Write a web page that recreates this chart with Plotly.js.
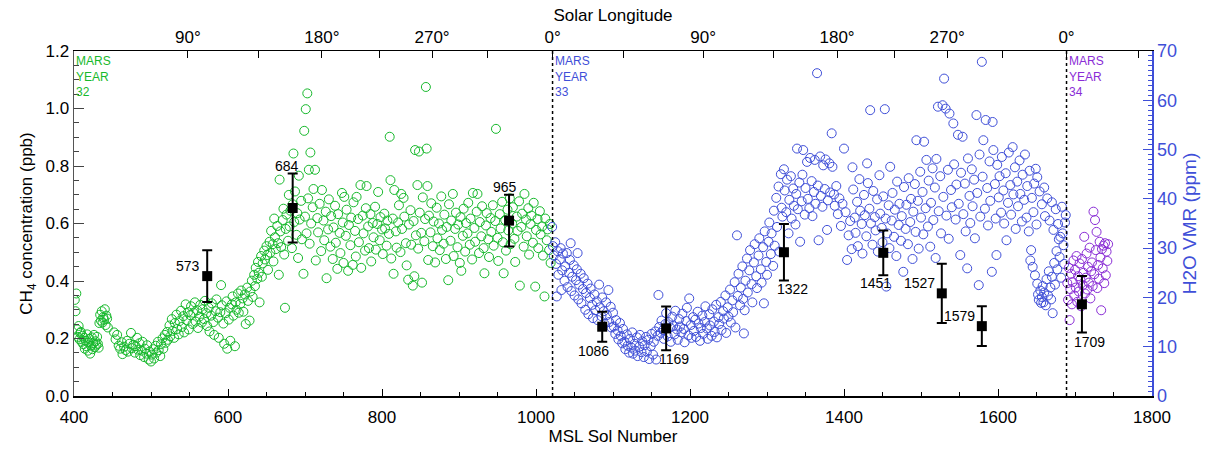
<!DOCTYPE html>
<html>
<head>
<meta charset="utf-8">
<script src="https://cdn.plot.ly/plotly-3.0.1.min.js"></script>
<style>html,body{margin:0;padding:0;background:#fff;}#chart{width:1207px;height:449px;}</style>
</head>
<body>
<div id="chart"></div>
<script>
// ---- Data: H2O VMR (ppm) observations, [MSL sol, ppm] ----
const my32Obs = [
[401,19.5],[402,17.2],[403,20.8],[404,13.5],[405,12.0],[406,14.2],[407,11.5],[408,12.8],[409,13.0],[410,11.0],
[411,12.2],[412,10.5],[413,11.8],[414,9.6],[415,11.2],[416,10.1],[417,12.5],[418,9.2],[419,10.8],[420,11.6],[421,8.6],[422,10.2],[423,11.9],[424,9.5],[425,10.7],[426,12.4],[427,9.9],[428,11.1],[429,10.4],[430,12.0],[431,10.6],[432,9.8],
[433,14.8],[434,16.5],[435,15.3],[436,17.2],[437,14.9],[438,16.0],[439,15.5],[440,17.6],[441,14.4],[442,16.3],[443,15.7],[444,13.9],
[452,12.9],[454,11.5],[456,12.4],[458,10.2],[460,9.6],[462,10.9],[463,8.5],[465,10.0],[467,9.3],[469,11.2],[470,9.0],[472,10.6],[474,12.8],[475,9.7],[477,10.4],[479,8.8],[480,10.1],
[482,11.8],[483,9.4],[485,10.7],[486,8.3],[488,9.2],[489,11.0],[491,7.9],[492,9.6],[494,8.6],[495,10.3],[497,7.4],[498,9.0],[500,7.0],[501,8.4],[503,9.5],[504,7.6],[506,10.2],[507,8.8],[509,11.0],[510,9.3],[512,8.1],[513,10.5],[515,11.7],[516,9.6],[518,12.4],[519,10.8],
[521,13.0],[522,11.4],[524,14.3],[525,12.1],[527,15.6],[528,13.2],[530,11.8],[531,14.8],[533,16.5],[534,13.6],[536,12.5],[537,15.2],[539,17.3],[540,14.0],[542,16.2],[543,12.9],[545,18.6],
[546,15.4],[548,17.0],[549,13.5],[551,16.4],[552,18.2],[554,14.6],[555,16.9],[557,19.0],[558,15.1],[560,17.4],[561,13.8],[563,16.1],[564,18.5],[566,14.9],[567,17.6],[569,15.6],[570,19.3],[572,16.8],[573,14.2],[575,17.9],[576,13.1],[578,16.3],[579,18.8],[581,15.0],[582,12.4],[584,17.2],[585,19.6],[587,15.9],[588,11.8],[590,17.0],
[591,22.5],[592,18.4],[594,14.7],[595,10.6],[597,16.8],[598,19.2],[599,9.6],[601,15.5],[602,17.9],[603,11.2],[605,18.6],[606,20.2],[607,16.3],[609,10.1],[610,19.0],[611,17.5],[613,20.8],[614,16.9],[616,18.7],[617,21.4],[619,19.8],[620,17.1],[622,20.6],[623,14.6],[625,22.0],[626,19.3],[628,15.3],[629,21.2],
[631,23.4],[632,20.1],[634,24.6],[635,22.3],[636,26.0],[638,23.8],[639,27.2],[640,25.0],[641,19.0],[643,28.4],[644,24.2],[645,26.9],[647,29.5],[648,27.7],[650,30.4],[651,28.6],[652,25.6],[654,31.3],[655,29.1],[656,33.5],[658,30.8],[659,27.3],[660,36.0],
[661,32.2],[662,29.8],[664,34.5],[665,31.0],[666,24.6],[667,43.9],[668,33.4],[669,30.2],[671,35.7],[672,38.0],[673,28.7],[674,17.9],[675,33.9],[676,36.8],[678,31.5],[679,40.8],[680,34.4],[681,37.6],[683,30.0],[684,38.9],[685,49.2],[686,35.3],[687,41.5],[689,32.7],[690,37.1],[691,28.0],[692,44.7],[693,35.8],[695,39.6],[696,31.8],[698,24.8],[699,53.8],[700,36.4],[701,58.2],[702,33.0],[703,61.4],[704,40.1],[705,45.9],[706,30.9],[707,49.4],[708,35.0],[710,38.3],[711,42.0],[713,45.9],[714,27.5],[716,36.1],[717,33.2],[719,39.0],
[721,29.4],[722,41.8],[724,35.6],[725,31.6],[727,37.4],[728,23.9],[730,33.8],[731,39.9],[733,30.3],[734,36.5],[736,27.8],[737,34.2],[739,38.6],[740,31.1],[742,25.8],[743,36.9],[745,33.1],[746,29.0],[748,41.2],[749,35.2],[750,27.0],[751,40.4],[753,32.5],[754,37.8],[756,25.4],[757,34.7],[759,30.6],[760,36.2],[762,26.6],[763,39.3],[765,33.5],[766,28.3],[767,40.4],[769,35.9],[770,31.2],[772,42.8],[773,26.0],[775,36.6],[776,33.0],[778,29.5],[779,38.1],[780,42.6],[782,34.4],[783,30.0],[785,36.9],[786,27.3],[788,35.1],[789,32.2],[791,38.4],[792,29.7],[794,34.9],[795,41.4],[797,31.6],[798,36.3],[800,33.8],
[801,28.8],[803,37.0],[804,34.0],[806,30.5],[807,35.6],[809,32.9],[810,52.6],[811,43.8],[812,27.9],[814,36.0],[815,24.8],[816,41.8],[818,33.4],[819,30.1],[821,35.2],[822,38.7],[824,29.2],[825,41.0],[826,33.9],[828,40.2],[829,36.4],[831,31.0],[832,26.5],[834,23.6],[835,34.8],[837,37.7],[838,30.7],[840,22.4],[841,35.5],[842,24.3],[843,49.9],[844,32.6],[846,42.8],[847,29.9],[848,49.6],[849,37.2],[851,33.1],[852,23.0],[853,40.3],[855,31.4],[856,35.9],[857,62.7],[858,50.2],[859,42.6],[860,27.6],[861,36.6],[863,33.2],[864,39.1],[866,30.4],[867,35.4],[869,27.1],
[871,38.2],[872,32.0],[874,35.0],[875,29.6],[877,40.5],[878,33.7],[880,30.9],[881,36.8],[883,27.8],[884,34.3],[886,23.5],[887,38.9],[889,31.5],[890,35.6],[892,41.0],[893,28.4],[895,33.9],[896,37.2],[898,30.2],[899,34.8],[901,27.0],[902,36.3],[903,25.4],[905,32.5],[906,38.0],[908,29.3],[909,35.1],[911,33.0],[912,39.2],[914,30.7],[915,36.0],[917,27.7],[918,41.2],[920,34.1],[921,31.3],[923,37.4],[924,41.0],[926,29.0],[927,35.3],[929,32.4],[930,38.5],[932,30.0],[933,24.9],[935,34.6],[936,37.1],[938,31.8],[939,28.2],[941,36.1],[942,33.3],[944,38.7],[945,30.5],[947,35.5],[948,54.2],[950,32.1],[951,27.4],[953,36.9],[954,34.0],[956,39.4],[957,31.2],[958,24.9],[960,35.7],
[961,29.5],[963,37.8],[964,33.6],[966,40.1],[967,30.8],[969,35.0],[970,38.3],[972,31.9],[973,27.2],[975,36.4],[976,33.5],[978,39.5],[979,22.4],[981,34.3],[982,37.0],[984,30.3],[985,41.0],[987,35.8],[988,32.4],[990,38.1],[991,28.7],[993,34.9],[994,36.6],[996,31.1],[997,39.2],[999,22.2],[1000,33.7],[1002,35.9],[1003,30.0],[1005,37.5],[1006,32.8],[1008,34.4],[1009,28.5],[1011,20.2],[1012,36.0],[1014,31.6],[1015,33.8],[1017,29.6],[1018,34.9],[1019,27.0]
];
const my33Obs = [
[1021,34.3],[1022,30.4],[1023,28.5],[1025,31.2],[1026,26.8],[1027,20.2],[1028,29.4],[1029,24.6],[1031,27.7],[1032,30.0],[1033,21.5],[1034,25.5],[1035,28.9],[1037,23.4],[1038,26.3],[1040,29.0],[1041,22.1],[1043,25.0],[1044,27.6],[1045,31.0],[1046,21.3],[1047,24.2],[1049,26.5],[1050,20.4],[1052,23.5],[1053,25.7],[1054,29.0],[1055,19.6],[1056,22.6],[1058,24.8],[1059,18.8],[1061,21.7],[1062,23.9],[1064,17.5],[1065,20.9],[1067,22.8],[1068,16.6],[1070,19.9],[1071,21.8],[1073,18.5],[1074,15.8],[1076,20.6],[1077,17.4],[1079,19.2],[1080,15.4],[1082,22.6],[1083,18.0],[1085,16.2],[1086,20.0],[1088,17.2],[1089,14.6],[1091,19.0],[1092,16.4],[1094,21.5],[1095,15.0],[1097,18.1],[1098,13.9],[1100,16.9],
[1101,14.1],[1103,12.6],[1104,15.4],[1106,13.3],[1107,11.5],[1109,14.8],[1110,12.2],[1112,10.7],[1113,13.6],[1115,11.0],[1116,9.5],[1118,12.5],[1119,10.2],[1121,8.8],[1122,11.6],[1124,9.8],[1125,12.9],[1126,8.6],[1128,10.6],[1129,9.2],[1131,11.9],[1132,8.1],[1134,10.0],[1135,12.4],[1137,8.9],[1138,11.1],[1140,7.9],[1141,10.3],[1143,12.0],[1144,9.0],[1146,11.4],[1147,7.5],[1149,10.1],[1150,12.6],[1152,8.4],[1153,11.0],[1155,13.1],[1156,7.4],[1158,12.2],[1159,20.5],[1160,14.0],
[1162,12.8],[1163,15.3],[1165,13.4],[1166,11.6],[1168,14.6],[1169,16.8],[1171,12.1],[1172,15.0],[1174,13.9],[1175,11.0],[1177,16.1],[1178,14.2],[1180,12.5],[1181,17.3],[1183,13.5],[1184,11.4],[1186,15.6],[1187,14.1],[1189,12.9],[1190,16.7],[1192,13.6],[1193,10.9],[1195,15.2],[1196,17.9],[1198,12.3],[1199,19.8],[1201,14.4],[1202,11.8],[1204,16.0],[1205,13.2],[1207,15.5],[1208,12.0],[1210,17.1],[1211,14.7],[1213,11.2],[1214,13.8],[1216,16.3],[1217,12.6],[1219,15.0],[1220,18.2],[1222,13.7],[1223,11.6],[1225,16.6],[1226,14.3],[1228,12.2],[1229,17.6],[1231,15.1],[1232,13.0],[1234,18.5],[1235,11.9],[1237,16.0],[1238,14.6],[1240,19.1],[1241,13.4],[1243,17.2],[1244,15.7],[1246,20.4],[1247,12.8],[1249,18.0],[1250,16.1],[1252,21.6],[1253,14.9],[1255,19.4],[1256,17.0],[1258,23.1],[1259,13.9],
[1261,32.6],[1262,20.3],[1263,24.8],[1265,18.4],[1266,22.0],[1268,26.3],[1269,19.7],[1270,12.7],[1271,17.4],[1272,23.4],[1274,27.9],[1275,21.0],[1277,25.5],[1278,29.6],[1280,22.7],[1281,19.0],[1283,27.1],[1284,30.8],[1286,24.3],[1287,21.9],[1289,28.5],[1290,32.0],[1292,25.7],[1293,23.0],[1295,30.2],[1296,18.8],[1297,33.4],[1299,27.2],[1300,24.6],[1302,31.3],[1303,35.2],[1305,28.8],[1306,33.0],[1308,26.4],[1309,37.6],[1310,30.5],[1312,40.2],[1313,34.3],[1315,42.5],[1316,29.3],[1318,45.0],[1319,38.2],[1320,36.4],
[1322,46.0],[1323,41.7],[1325,37.3],[1326,43.9],[1328,33.0],[1329,39.8],[1331,44.6],[1332,36.0],[1334,42.1],[1335,38.6],[1337,34.8],[1338,41.0],[1339,50.2],[1340,37.9],[1342,43.3],[1343,31.3],[1345,39.5],[1346,44.9],[1347,49.9],[1349,36.8],[1350,42.2],[1352,47.5],[1353,40.0],[1355,38.1],[1356,48.3],[1358,43.6],[1359,36.5],[1361,41.4],[1362,47.9],[1363,39.0],[1365,65.5],[1366,42.7],[1367,31.6],[1369,48.6],[1370,40.6],[1372,38.4],[1373,46.8],[1375,42.0],[1376,48.0],[1378,33.7],[1379,39.7],[1381,47.2],[1382,41.3],[1384,53.3],[1385,46.5],[1387,40.9],[1388,38.6],[1390,42.6],[1392,36.9],[1394,40.1],[1396,34.5],[1398,39.0],[1400,50.2],[1402,37.3],[1404,27.6],[1406,32.6],[1408,35.5],[1410,29.8],
[1411,46.4],[1412,41.9],[1414,36.2],[1415,33.1],[1417,39.4],[1418,30.4],[1420,44.0],[1421,37.6],[1423,34.9],[1424,28.9],[1426,40.8],[1427,36.7],[1429,32.4],[1430,47.2],[1431,43.2],[1433,38.0],[1434,58.0],[1435,35.0],[1437,30.7],[1438,41.6],[1440,36.3],[1441,33.6],[1443,39.9],[1444,29.3],[1446,44.8],[1447,37.0],[1449,34.1],[1450,31.2],[1451,40.5],[1453,58.2],[1454,36.0],[1455,22.2],[1456,33.0],[1458,38.7],[1459,30.0],[1460,46.5],[1462,35.6],[1463,41.2],[1465,32.3],[1466,37.8],[1468,28.4],[1469,43.5],[1471,34.7],[1472,39.0],[1474,31.5],[1475,36.5],[1477,25.2],[1478,42.4],[1480,33.9],
[1481,38.8],[1483,30.8],[1484,44.2],[1486,35.3],[1487,40.0],[1489,27.8],[1490,37.4],[1492,43.0],[1493,33.3],[1494,51.9],[1496,39.6],[1497,29.9],[1499,45.5],[1500,36.2],[1502,41.4],[1503,32.8],[1504,51.6],[1506,38.1],[1507,47.9],[1509,34.4],[1510,43.7],[1512,30.3],[1513,39.2],[1515,46.2],[1516,35.7],[1518,42.3],[1519,28.0],[1520,48.1],[1522,58.7],[1523,37.5],[1525,44.6],[1526,33.0],[1528,59.0],[1529,40.4],[1530,64.4],[1532,58.3],[1533,36.6],[1535,45.9],[1536,31.9],[1537,57.3],[1539,41.8],[1540,38.3],
[1542,55.3],[1543,47.0],[1545,35.8],[1546,42.9],[1548,53.0],[1549,39.0],[1551,28.6],[1552,45.3],[1554,52.6],[1555,36.9],[1557,43.1],[1558,33.4],[1560,25.9],[1561,48.2],[1563,40.6],[1564,35.1],[1566,46.0],[1567,38.5],[1569,43.9],[1570,32.0],[1572,57.0],[1573,41.2],[1575,22.5],[1576,49.0],[1577,36.4],[1579,67.8],[1580,44.5],[1581,51.9],[1583,38.0],[1584,56.0],[1586,42.2],[1587,34.6],[1589,47.6],[1590,39.6],[1592,25.2],[1593,55.6],[1594,49.9],[1596,43.0],[1597,36.0],[1598,28.6],[1599,46.9],
[1601,40.3],[1602,44.6],[1604,37.2],[1605,48.5],[1607,41.7],[1608,35.0],[1610,45.2],[1611,31.6],[1613,39.2],[1614,49.4],[1616,42.8],[1617,36.8],[1619,50.5],[1620,40.9],[1622,46.4],[1623,33.9],[1625,43.5],[1626,38.5],[1628,47.8],[1629,41.0],[1631,35.4],[1632,44.9],[1634,39.8],[1635,49.0],[1637,36.2],[1638,42.6],[1640,33.4],[1641,45.7],[1643,29.6],[1644,40.2],[1646,37.3],[1647,43.1],[1649,46.1],[1650,34.8],
[1642,27.5],[1645,26.2],[1648,24.5],[1651,22.8],[1652,20.6],[1653,19.5],[1655,21.4],[1656,18.9],[1657,20.1],[1658,22.3],[1659,19.0],[1660,21.0],[1662,18.4],[1663,23.7],[1665,20.4],[1666,25.3],[1668,22.0],[1669,19.6],[1670,24.2],[1671,16.8],[1673,27.0],[1674,22.6],[1676,29.4],[1677,25.7],[1679,31.8],[1680,28.2],[1682,24.0],[1683,38.4],[1684,33.0],[1685,30.6],[1686,26.8],[1687,35.2],[1688,36.7],
[1651,44.4],[1654,41.5],[1657,38.9],[1660,42.3],[1661,36.5],[1664,40.1],[1667,35.6],[1670,39.3],[1672,33.7],[1675,37.9],[1678,34.9],[1681,32.3]
];
const my34Obs = [
[1690,22.9],[1691,19.5],[1692,26.0],[1693,15.4],[1694,21.7],[1695,24.8],[1696,18.6],[1697,23.1],[1698,27.5],[1699,20.4],[1700,25.6],[1701,22.0],[1702,28.4],[1703,19.1],[1704,24.3],[1705,21.2],[1706,26.9],[1707,23.6],[1708,18.2],[1709,27.8],[1710,22.5],[1711,25.0],[1712,32.3],[1713,20.8],[1714,24.0],[1715,28.9],[1716,21.6],[1717,26.2],[1718,23.0],[1719,30.1],[1720,19.8],[1721,25.3],[1722,27.1],[1723,22.3],[1724,37.4],[1725,24.7],[1726,35.7],[1727,29.6],[1728,33.3],[1729,21.9],[1730,26.6],[1731,23.8],[1732,31.3],[1733,28.1],[1734,17.4],[1735,29.8],[1736,25.9],[1737,30.5],[1738,22.9],[1739,31.0],[1740,24.5],[1741,29.3],[1742,27.4],[1743,30.8]
];

// ---- Data: CH4 background measurements ----
const ch4Sols = [573, 684, 965, 1086, 1169, 1322, 1451, 1527, 1579, 1709];
const ch4Ppb  = [0.417, 0.654, 0.61, 0.241, 0.235, 0.50, 0.498, 0.357, 0.243, 0.319];
const ch4Err  = [0.09, 0.12, 0.09, 0.052, 0.076, 0.098, 0.078, 0.103, 0.069, 0.098];

// ---- Tick labels / annotations ----
const lsTickSols   = [548, 722, 865, 1021.5, 1217, 1391, 1534, 1689];
const lsTickLabels = ['90°', '180°', '270°', '0°', '90°', '180°', '270°', '0°'];
const lsMinorSols  = [639, 797, 937, 1113, 1308, 1466, 1606, 1782];
const yearStartSols = [1021.5, 1689];
const yearLabelSols = [400, 1021.5, 1689];
const yearLabels = ['32', '33', '34'];

// ---- Styles ----
const GREEN = '#17b92c', BLUE = '#3f4fd8', PURPLE = '#8a2dd6';
const yearColors = [GREEN, BLUE, PURPLE];
const FONT = 'Liberation Sans, Arial, Helvetica, sans-serif';
// label placement for each CH4 point: [xanchor, xshift, yshift]
const labelPlace = [
  ['right', -5, 10], ['center', -6, 42], ['center', -4, 34], ['center', -9, -24], ['center', 8, -31],
  ['center', 9, -37], ['center', -8, -30], ['right', -5, 10], ['right', -5, 10], ['center', 8, -38]
];

function obsTrace(obs, color) {
  return {
    type: 'scatter', mode: 'markers',
    x: obs.map(p => p[0]), y: obs.map(p => p[1]),
    xaxis: 'x', yaxis: 'y',
    marker: {symbol: 'circle-open', size: 9, color: color, line: {width: 1, color: color}},
    hoverinfo: 'x+y', showlegend: false
  };
}

const traces = [
  obsTrace(my32Obs, GREEN),
  obsTrace(my33Obs, BLUE),
  obsTrace(my34Obs, PURPLE),
  {
    type: 'scatter', mode: 'markers', x: ch4Sols, y: ch4Ppb, xaxis: 'x', yaxis: 'y2',
    marker: {symbol: 'square', size: 10, color: '#000'},
    error_y: {type: 'data', array: ch4Err, visible: true, color: '#000', thickness: 2, width: 5},
    showlegend: false
  },
  {type: 'scatter', mode: 'markers', x: [1000], y: [-1], xaxis: 'x2', yaxis: 'y2', showlegend: false,
   marker: {size: 1, color: 'rgba(0,0,0,0)'}}
];

const annotations = [];
ch4Sols.forEach((s, i) => {
  const pl = labelPlace[i];
  annotations.push({
    x: s, y: ch4Ppb[i], xref: 'x', yref: 'y2', text: String(s), showarrow: false,
    xanchor: pl[0], yanchor: 'middle', xshift: pl[1], yshift: pl[2],
    font: {family: FONT, size: 14, color: '#000'}
  });
});
yearLabelSols.forEach((s, i) => {
  annotations.push({
    x: s, y: 1, xref: 'x', yref: 'paper', text: 'MARS<br>YEAR<br>' + yearLabels[i], showarrow: false,
    xanchor: 'left', yanchor: 'top', align: 'left', xshift: 1, yshift: -2, borderpad: 0,
    font: {family: FONT, size: 12, color: yearColors[i]}
  });
});

const shapes = yearStartSols.map(s => ({
  type: 'line', xref: 'x', yref: 'paper', x0: s, x1: s, y0: 0, y1: 1,
  line: {color: '#000', width: 1.5, dash: 'dot'}
}));

const layout = {
  width: 1207, height: 449,
  margin: {l: 74, r: 55, t: 51, b: 53, pad: 0},
  paper_bgcolor: '#fff', plot_bgcolor: '#fff',
  font: {family: FONT, size: 17, color: '#000'},
  showlegend: false,
  xaxis: {
    range: [400, 1800], dtick: 200, tick0: 400, ticks: 'inside', ticklen: 7, tickwidth: 1, tickcolor: '#000',
    minor: {dtick: 50, ticks: 'inside', ticklen: 4, tickcolor: '#000'},
    showline: true, linecolor: '#000', linewidth: 1.5, showgrid: false, zeroline: false,
    ticklabelstandoff: 5,
    tickfont: {size: 17}, title: {text: 'MSL Sol Number', font: {size: 17}, standoff: 3}
  },
  xaxis2: {
    overlaying: 'x', side: 'top', range: [400, 1800], tickmode: 'array',
    tickvals: lsTickSols, ticktext: lsTickLabels, ticks: 'inside', ticklen: 7, tickwidth: 1, tickcolor: '#000',
    minor: {tickmode: 'array', tickvals: lsMinorSols, ticks: 'inside', ticklen: 7, tickwidth: 1, tickcolor: '#000'},
    showline: true, linecolor: '#000', linewidth: 1.5, showgrid: false, zeroline: false,
    tickfont: {size: 17}, title: {text: 'Solar Longitude', font: {size: 17}, standoff: 2}
  },
  yaxis: {
    side: 'right', range: [0, 70], dtick: 10, tick0: 0, ticks: 'inside', ticklen: 9, tickwidth: 1,
    tickcolor: BLUE, color: BLUE,
    minor: {dtick: 1, ticks: 'inside', ticklen: 4, tickcolor: BLUE},
    showline: true, linecolor: BLUE, linewidth: 1.5, showgrid: false, zeroline: false,
    tickfont: {size: 18, color: BLUE}, title: {text: 'H2O VMR (ppm)', font: {size: 19, color: BLUE}, standoff: 6}
  },
  yaxis2: {
    overlaying: 'y', side: 'left', range: [0, 1.2], dtick: 0.2, tick0: 0, tickformat: '.1f',
    ticks: 'inside', ticklen: 10, tickwidth: 1, tickcolor: '#444',
    minor: {dtick: 0.05, ticks: 'inside', ticklen: 5, tickcolor: '#444'},
    showline: true, linecolor: '#555', linewidth: 1.5, showgrid: false, zeroline: false,
    tickfont: {size: 17}, title: {text: 'CH<sub>4</sub> concentration (ppb)', font: {size: 17}, standoff: 8}
  },
  annotations: annotations,
  shapes: shapes
};

Plotly.newPlot('chart', traces, layout, {displayModeBar: false, staticPlot: true});
</script>
</body>
</html>
